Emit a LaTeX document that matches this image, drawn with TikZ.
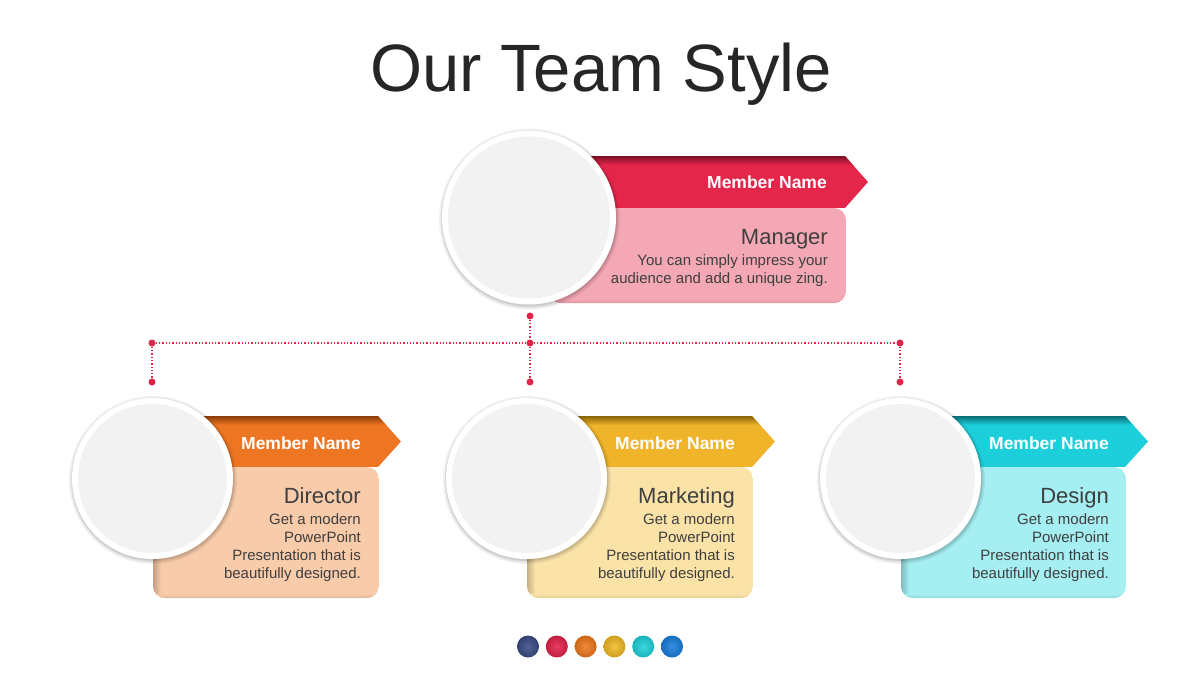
\documentclass[tikz,border=0pt]{standalone}
\usepackage{fontspec}
\setmainfont{Liberation Sans}
\definecolor{txt}{HTML}{3F3F3F}
\definecolor{ttl}{HTML}{262626}
\definecolor{ringgray}{HTML}{F2F2F2}
\definecolor{conn}{HTML}{E0244A}
\definecolor{redA}{HTML}{E3264A}\definecolor{redL}{HTML}{F4A8B5}\definecolor{redD}{HTML}{7E1026}
\definecolor{orA}{HTML}{EE7623}\definecolor{orL}{HTML}{F8CBAA}\definecolor{orD}{HTML}{8A3C0A}
\definecolor{yeA}{HTML}{F0B42A}\definecolor{yeL}{HTML}{FBE3A8}\definecolor{yeD}{HTML}{8A6408}
\definecolor{cyA}{HTML}{1DCFDA}\definecolor{cyL}{HTML}{A5EEF2}\definecolor{cyD}{HTML}{0B6E76}
\definecolor{b1}{HTML}{3A4C86}\definecolor{b2}{HTML}{E4234C}\definecolor{b3}{HTML}{F07A1E}
\definecolor{b4}{HTML}{F2BC26}\definecolor{b5}{HTML}{1FD3DC}\definecolor{b6}{HTML}{1A80DE}
% #1 cx, #2 cy, #3 r, #4 banner top, #5 banner bottom, #6 flat x, #7 box left, #8 box bottom, #9 colour prefix
\newcommand\mem[9]{%
  \begin{scope}
    \clip[rounded corners=12pt] (#7,#5) rectangle (#6+1,#8);
    \fill[#9L] (#7,#5) rectangle (#6+1,#8);
    \shade[left color=black!22!#9L, right color=#9L] (#7,#5) rectangle (#7+8,#8);
    \shade[top color=#9L, bottom color=black!10!#9L] (#7,#8-4) rectangle (#6+1,#8);
  \end{scope}
  \begin{scope}
    \clip (#1,#4) -- (#6,#4) -- (#6+23,{(#4+#5)/2}) -- (#6,#5) -- (#1,#5) -- cycle;
    \fill[#9A] (#1,#4) rectangle (#6+23,#5);
    \shade[top color=#9D, bottom color=#9A] (#1,#4) rectangle (#6+23,#4+9);
  \end{scope}
  \fill[black, opacity=0.05] (#1+0.5,#2+1.5) circle (#3+3.5);
  \fill[black, opacity=0.07] (#1+0.5,#2+1.5) circle (#3+2);
  \fill[black, opacity=0.09] (#1+0.5,#2+1) circle (#3+0.8);
  \fill[white] (#1,#2) circle (#3);
  \fill[ringgray] (#1,#2) circle (#3-6);
}
\tikzset{
  mname/.style={anchor=base east, inner sep=0, text=white, font=\fontsize{17.5}{20}\selectfont\bfseries},
  role/.style={anchor=base east, inner sep=0, text=txt, font=\fontsize{22}{26}\selectfont},
  desc/.style={anchor=base east, inner sep=0, text=txt, font=\fontsize{15}{18}\selectfont},
  cdot/.style={circle, fill=conn, inner sep=0, minimum size=7},
  cline/.style={conn, line width=1.3pt, dotted}
}
\begin{document}
\begin{tikzpicture}[x=1pt,y=-1pt]
\useasboundingbox (0,0) rectangle (1200,675);
\fill[white] (0,0) rectangle (1200,675);
\node[text=ttl, font=\fontsize{67}{70}\selectfont, inner sep=0, anchor=base] (title) at (601,91) {Our Team Style};

% connectors
\node[cdot] (d0) at (530,316) {};
\node[cdot] (dm) at (530,343) {};
\node[cdot] (dl) at (152,343) {};
\node[cdot] (dr) at (900,343) {};
\node[cdot] (dlb) at (152,382) {};
\node[cdot] (dmb) at (530,382) {};
\node[cdot] (drb) at (900,382) {};
\draw[cline] (d0) -- (dm);
\draw[cline] (dl) -- (dm);
\draw[cline] (dm) -- (dr);
\draw[cline] (dl) -- (dlb);
\draw[cline] (dm) -- (dmb);
\draw[cline] (dr) -- (drb);

% manager
\mem{529}{217.5}{87}{156}{208}{845}{549}{303}{red}
\node[mname] (n0) at (827,188) {Member Name};
\node[role] (r0) at (828,244) {Manager};
\node[desc] (t0a) at (828,265) {You can simply impress your};
\node[desc] (t0b) at (828,283) {audience and add a unique zing.};

% director
\mem{152.5}{478.5}{80.5}{416}{467}{378}{153}{598}{or}
\node[mname] (n1) at (361,449) {Member Name};
\node[role] (r1) at (361,503) {Director};
\node[desc] (t1a) at (361,524) {Get a modern};
\node[desc] (t1b) at (361,542) {PowerPoint};
\node[desc] (t1c) at (361,560) {Presentation that is};
\node[desc] (t1d) at (361,578) {beautifully designed.};

% marketing
\mem{526.5}{478.5}{80.5}{416}{467}{752}{527}{598}{ye}
\node[mname] (n2) at (735,449) {Member Name};
\node[role] (r2) at (735,503) {Marketing};
\node[desc] (t2a) at (735,524) {Get a modern};
\node[desc] (t2b) at (735,542) {PowerPoint};
\node[desc] (t2c) at (735,560) {Presentation that is};
\node[desc] (t2d) at (735,578) {beautifully designed.};

% design
\mem{900.5}{478.5}{80.5}{416}{467}{1125}{901}{598}{cy}
\node[mname] (n3) at (1109,449) {Member Name};
\node[role] (r3) at (1109,503) {Design};
\node[desc] (t3a) at (1109,524) {Get a modern};
\node[desc] (t3b) at (1109,542) {PowerPoint};
\node[desc] (t3c) at (1109,560) {Presentation that is};
\node[desc] (t3d) at (1109,578) {beautifully designed.};

% colour balls
\foreach \c [count=\i from 0] in {b1,b2,b3,b4,b5,b6}{
  \shade[inner color=\c!88!white, outer color=\c!85!black] ({528+28.8*\i},646.5) circle (11);
}
\end{tikzpicture}
\end{document}
